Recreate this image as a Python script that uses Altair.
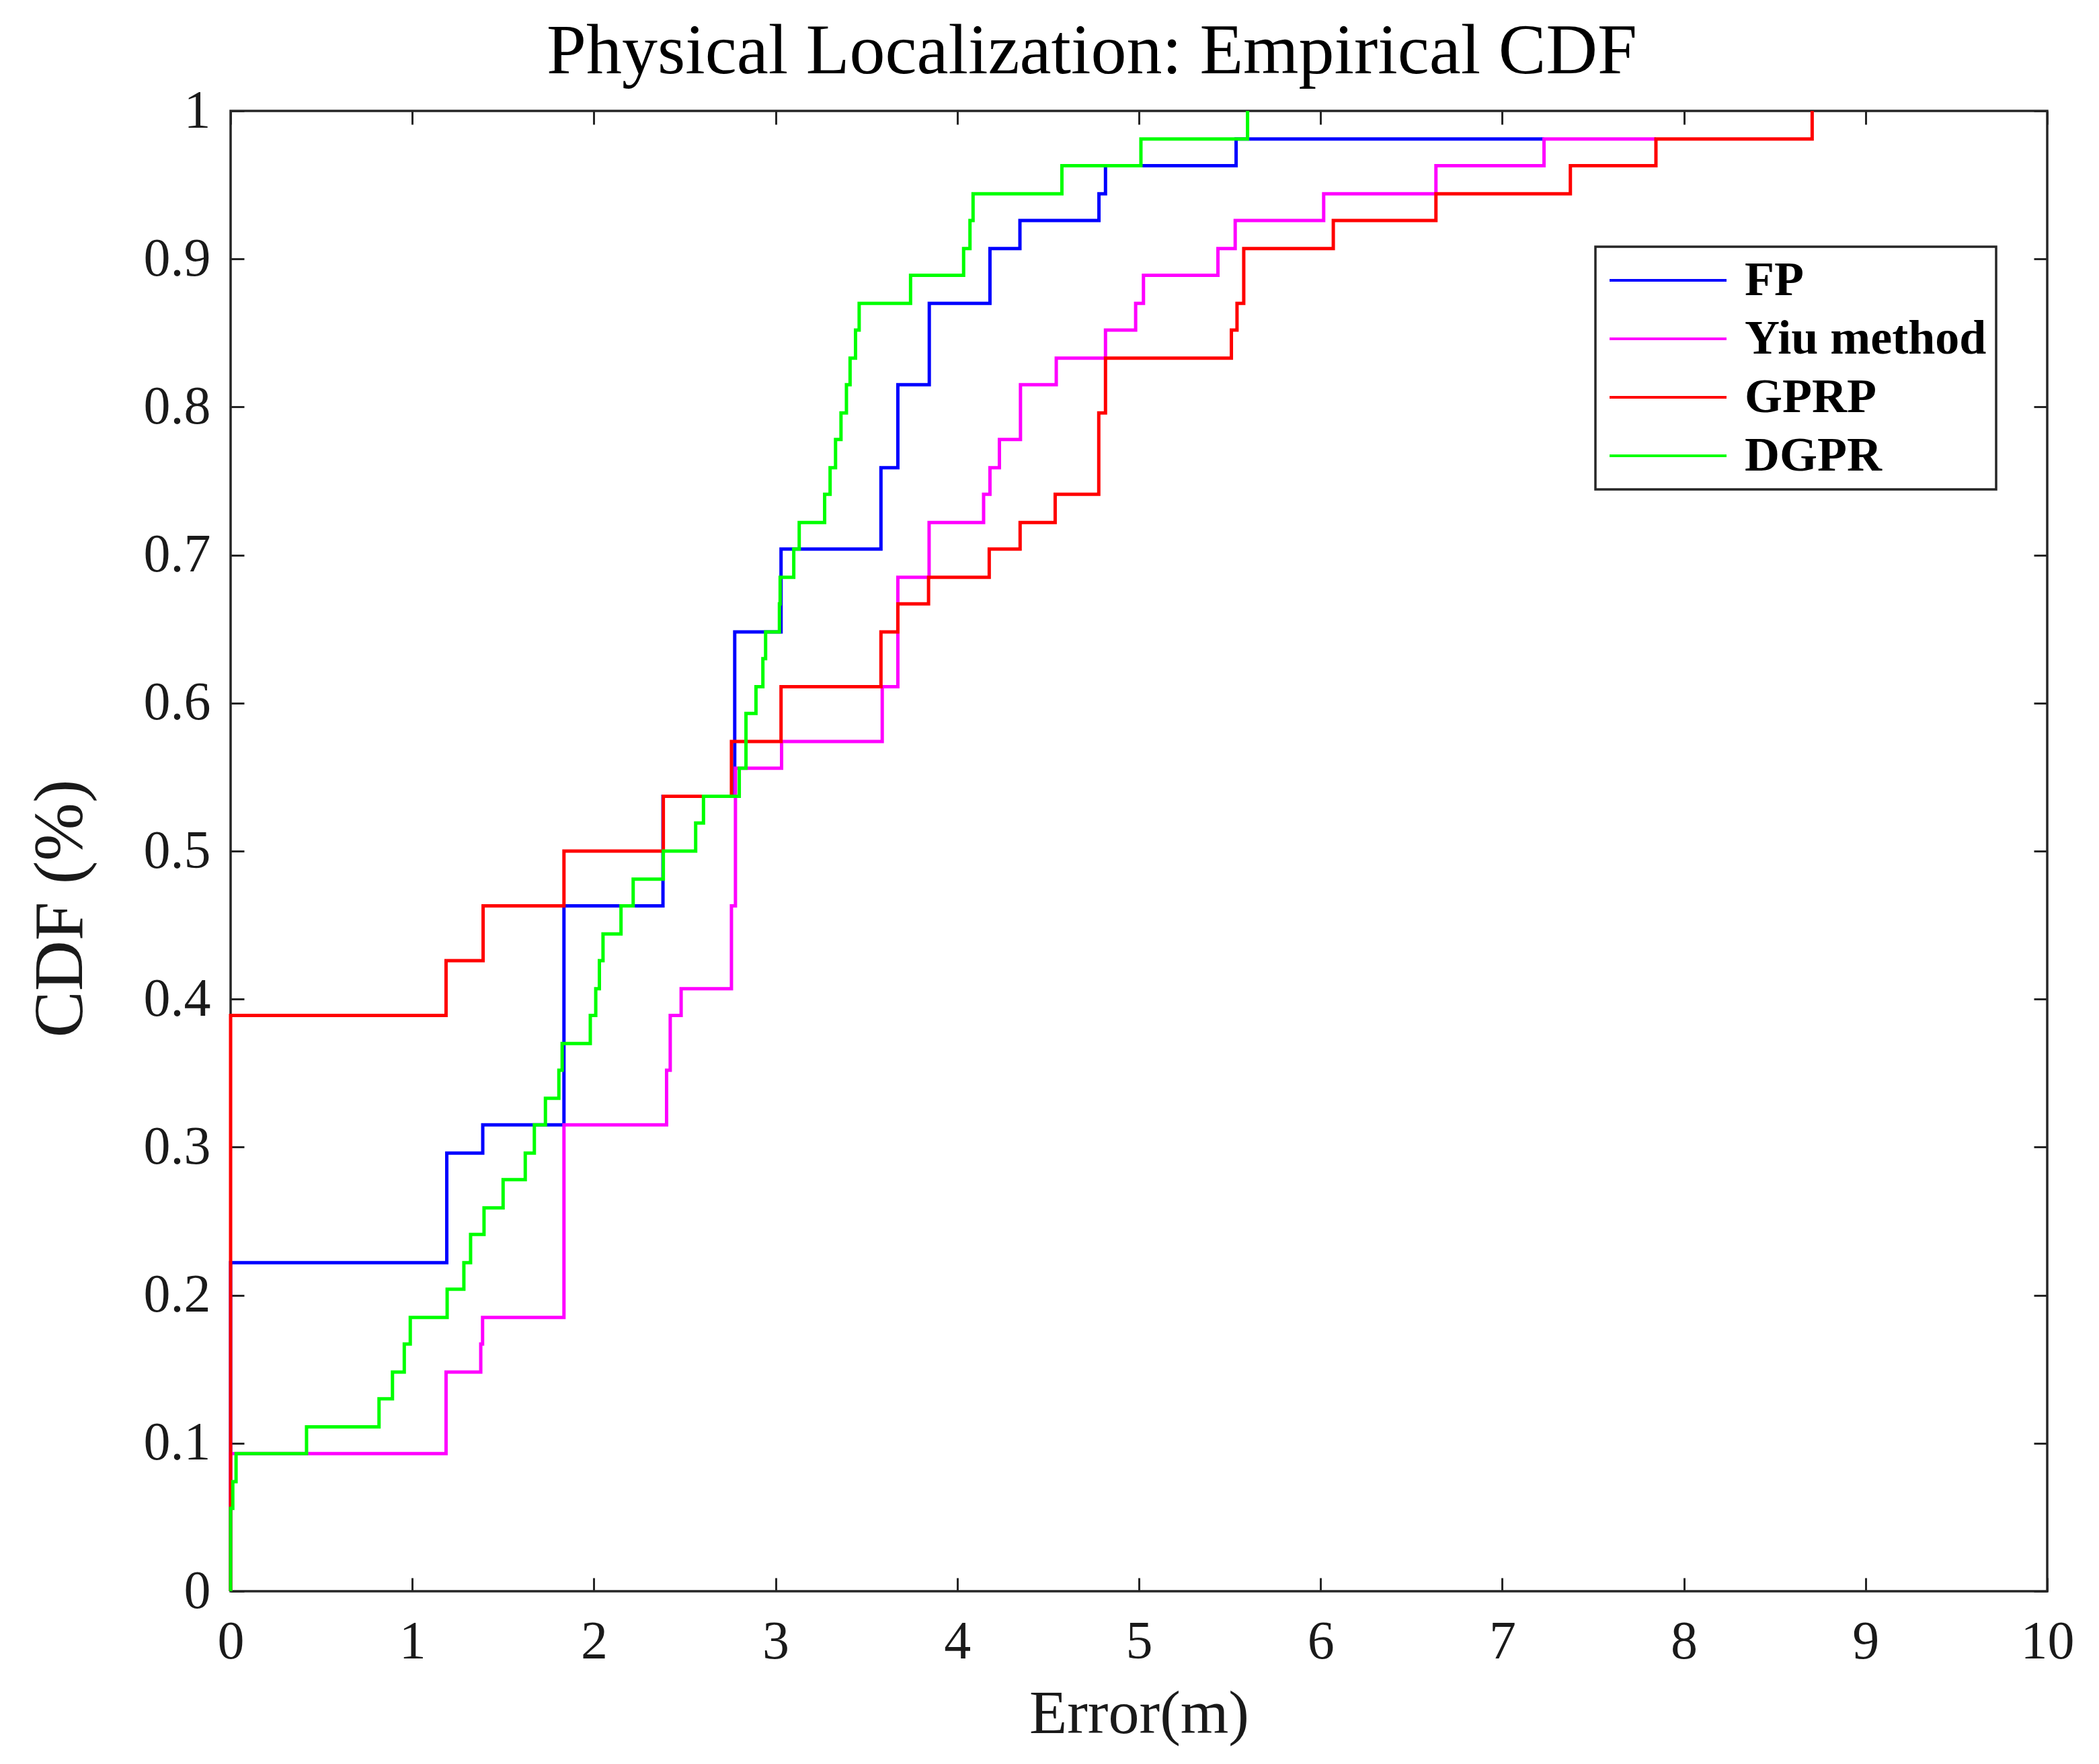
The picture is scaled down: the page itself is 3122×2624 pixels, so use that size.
import altair as alt
import pandas as pd

methods = ["FP", "Yiu method", "GPRP", "DGPR"]
colors = ["#0000ff", "#ff00ff", "#ff0000", "#00ff00"]

fp_x = [0, 0, 1.19, 1.388, 1.835, 2.38, 2.775, 3.03, 3.58, 3.673, 3.846, 4.18, 4.345, 4.78, 4.816, 5.535, 7.23]
fp_y = [0, 0.222, 0.296, 0.315, 0.463, 0.537, 0.648, 0.704, 0.759, 0.815, 0.870, 0.907, 0.926, 0.944, 0.963, 0.981, 0.981]

yiu_x = [0, 0, 1.186, 1.377, 1.387, 1.835, 2.40, 2.42, 2.48, 2.757, 2.779, 3.033, 3.587, 3.673, 3.845,
         4.145, 4.18, 4.232, 4.348, 4.545, 4.816, 4.982, 5.025, 5.435, 5.53, 6.017, 6.635, 7.23, 7.846]
yiu_y = [0, 0.093, 0.148, 0.167, 0.185, 0.315, 0.352, 0.389, 0.407, 0.463, 0.556, 0.574, 0.611, 0.685, 0.722,
         0.741, 0.759, 0.778, 0.815, 0.833, 0.852, 0.870, 0.889, 0.907, 0.926, 0.944, 0.963, 0.981, 0.981]

gprp_x = [0, 0, 1.186, 1.39, 1.835, 2.382, 2.757, 3.03, 3.58, 3.673, 3.842, 4.176, 4.346, 4.539, 4.779,
          4.816, 5.509, 5.54, 5.577, 6.07, 6.635, 7.375, 7.846, 8.706]
gprp_y = [0, 0.389, 0.426, 0.463, 0.5, 0.537, 0.574, 0.611, 0.648, 0.667, 0.685, 0.704, 0.722, 0.741, 0.796,
          0.833, 0.852, 0.870, 0.907, 0.926, 0.944, 0.963, 0.981, 1.0]

dgpr_x = [0, 0, 0.012, 0.03, 0.418, 0.817, 0.891, 0.956, 0.989, 1.192, 1.284, 1.321, 1.395, 1.50, 1.622,
          1.672, 1.733, 1.807, 1.825, 1.98, 2.01, 2.03, 2.05, 2.149, 2.216, 2.382, 2.56, 2.603, 2.80, 2.837,
          2.892, 2.93, 2.945, 3.021, 3.025, 3.10, 3.13, 3.27, 3.30, 3.33, 3.36, 3.39, 3.41, 3.44, 3.46,
          3.743, 4.035, 4.07, 4.087, 4.576, 5.011, 5.598]
dgpr_y = [0, 0.056, 0.074, 0.093, 0.111, 0.130, 0.148, 0.167, 0.185, 0.204, 0.222, 0.241, 0.259, 0.278, 0.296,
          0.315, 0.333, 0.352, 0.370, 0.389, 0.407, 0.426, 0.444, 0.463, 0.481, 0.5, 0.519, 0.537, 0.556, 0.593,
          0.611, 0.630, 0.648, 0.667, 0.685, 0.704, 0.722, 0.741, 0.759, 0.778, 0.796, 0.815, 0.833, 0.852, 0.870,
          0.889, 0.907, 0.926, 0.944, 0.963, 0.981, 1.0]

x_ticks = [0, 1, 2, 3, 4, 5, 6, 7, 8, 9, 10]
y_ticks = [0, 0.1, 0.2, 0.3, 0.4, 0.5, 0.6, 0.7, 0.8, 0.9, 1]

rows = []
for name, xs, ys in zip(methods, [fp_x, yiu_x, gprp_x, dgpr_x], [fp_y, yiu_y, gprp_y, dgpr_y]):
    for i, (xv, yv) in enumerate(zip(xs, ys)):
        rows.append({"method": name, "x": xv, "y": yv, "i": i})
df = pd.DataFrame(rows)

FONT = "Liberation Serif"
AX = "#262626"

xscale = alt.Scale(domain=[0, 10], nice=False, zero=False)
yscale = alt.Scale(domain=[0, 1], nice=False, zero=False)

common = dict(offset=-20, tickSize=20, tickWidth=3, tickColor=AX, domain=False, grid=False,
              labelFont=FONT, labelFontSize=80, labelColor="#1a1a1a", labelFlush=False)

bottom_axis = alt.Axis(orient="bottom", values=x_ticks, labelPadding=36, format="d",
                       title="Error(m)", titleFont=FONT, titleFontSize=92, titleFontWeight="normal",
                       titleColor="#1a1a1a", titlePadding=22, **common)
left_axis = alt.Axis(orient="left", values=y_ticks, labelPadding=30, format="~g",
                     title="CDF (%)", titleFont=FONT, titleFontSize=104, titleFontWeight="normal",
                     titleColor="#1a1a1a", titlePadding=70, titleY=1186, **common)
top_axis = alt.Axis(orient="top", values=x_ticks, labels=False, title=None, **common)
right_axis = alt.Axis(orient="right", values=y_ticks, labels=False, title=None, **common)

legend = alt.Legend(orient="none", legendX=2030, legendY=202, title=None,
                    symbolType="M-1,0H5", symbolSize=3364, symbolStrokeWidth=4,
                    labelFont=FONT, labelFontSize=72, labelFontWeight="bold", labelColor="black",
                    labelOffset=136, labelLimit=800, padding=14, rowPadding=15,
                    strokeColor=AX, fillColor="white")

lines = alt.Chart(df).mark_line(interpolate="step-after", strokeWidth=5).encode(
    x=alt.X("x:Q", scale=xscale, axis=bottom_axis),
    y=alt.Y("y:Q", scale=yscale, axis=left_axis),
    color=alt.Color("method:N", scale=alt.Scale(domain=methods, range=colors), legend=legend),
    order=alt.Order("i:Q"),
)

frame_ticks = alt.Chart(df).mark_point(opacity=0).encode(
    x=alt.X("x:Q", scale=xscale, axis=top_axis),
    y=alt.Y("y:Q", scale=yscale, axis=right_axis),
)

chart = alt.layer(lines, frame_ticks).resolve_axis(x="independent", y="independent").properties(
    width=2702, height=2202,
    padding={"left": 30, "top": 16, "right": 10, "bottom": 4},
    title=alt.TitleParams("Physical Localization: Empirical CDF", font=FONT, fontSize=106,
                          fontWeight="normal", color="black", offset=-6, dx=-70, anchor="middle"),
).configure_view(stroke=AX, strokeWidth=3.5).configure_legend(strokeWidth=3.5)

chart.save("out.html", embed_options={"renderer": "svg", "actions": False})
